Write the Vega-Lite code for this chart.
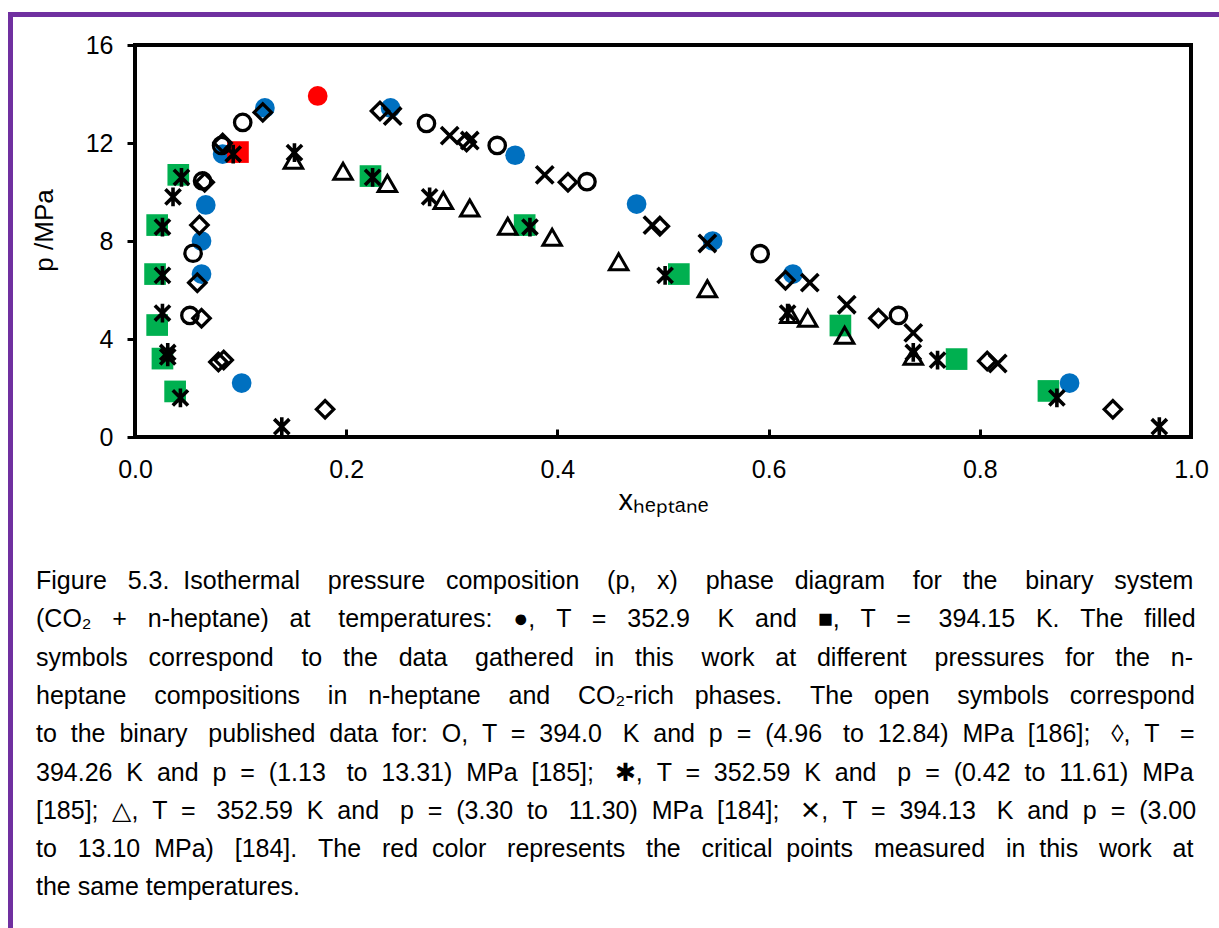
{
  "$schema": "https://vega.github.io/schema/vega-lite/v6.json",
  "width": 1056,
  "height": 392,
  "autosize": {"type": "none"},
  "padding": {"left": 135, "top": 45, "right": 28, "bottom": 491},
  "background": "white",
  "config": {
    "view": {"stroke": "#000000", "strokeWidth": 4},
    "font": "Liberation Sans",
    "legend": {"strokeWidth": 5},
    "axis": {
      "domain": false,
      "grid": false,
      "labelFlush": false,
      "labelFont": "Liberation Sans",
      "labelFontSize": 25,
      "labelColor": "#000000",
      "tickColor": "#000000",
      "tickWidth": 3,
      "titleFont": "Liberation Sans",
      "titleFontSize": 26,
      "titleFontWeight": "normal",
      "titleColor": "#000000"
    }
  },
  "title": {
    "text": [
      "Figure \u00a0\u00a05.3. \u00a0Isothermal \u00a0\u00a0\u00a0pressure \u00a0\u00a0composition \u00a0\u00a0\u00a0(p, \u00a0\u00a0x) \u00a0\u00a0\u00a0phase \u00a0\u00a0diagram \u00a0\u00a0\u00a0for \u00a0\u00a0the \u00a0\u00a0\u00a0binary \u00a0\u00a0system",
      "(CO₂ \u00a0\u00a0+ \u00a0\u00a0n-heptane) \u00a0\u00a0at \u00a0\u00a0\u00a0temperatures: \u00a0\u00a0●, \u00a0\u00a0T \u00a0\u00a0= \u00a0\u00a0352.9 \u00a0\u00a0\u00a0K \u00a0\u00a0and \u00a0\u00a0■, \u00a0\u00a0T \u00a0\u00a0= \u00a0\u00a0\u00a0394.15 \u00a0\u00a0K. \u00a0\u00a0The \u00a0\u00a0filled",
      "symbols \u00a0\u00a0correspond \u00a0\u00a0\u00a0to \u00a0\u00a0the \u00a0\u00a0data \u00a0\u00a0\u00a0gathered \u00a0\u00a0in \u00a0\u00a0this \u00a0\u00a0\u00a0work \u00a0\u00a0at \u00a0\u00a0different \u00a0\u00a0\u00a0pressures \u00a0\u00a0for \u00a0\u00a0the \u00a0\u00a0n-",
      "heptane \u00a0\u00a0\u00a0compositions \u00a0\u00a0\u00a0in \u00a0\u00a0n-heptane \u00a0\u00a0\u00a0and \u00a0\u00a0\u00a0CO₂-rich \u00a0\u00a0phases. \u00a0\u00a0\u00a0The \u00a0\u00a0open \u00a0\u00a0\u00a0symbols \u00a0\u00a0correspond",
      "to \u00a0the \u00a0binary \u00a0\u00a0published \u00a0data \u00a0for: \u00a0O, \u00a0T \u00a0= \u00a0394.0 \u00a0\u00a0K \u00a0and \u00a0p \u00a0= \u00a0(4.96 \u00a0\u00a0to \u00a012.84) \u00a0MPa \u00a0[186]; \u00a0\u00a0◊, \u00a0T \u00a0\u00a0=",
      "394.26 \u00a0K \u00a0and \u00a0p \u00a0= \u00a0(1.13 \u00a0\u00a0to \u00a013.31) \u00a0MPa \u00a0[185]; \u00a0\u00a0✱, \u00a0T \u00a0= \u00a0352.59 \u00a0K \u00a0and \u00a0\u00a0p \u00a0= \u00a0(0.42 \u00a0to \u00a011.61) \u00a0MPa",
      "[185]; \u00a0△, \u00a0T \u00a0= \u00a0\u00a0352.59 \u00a0K \u00a0and \u00a0\u00a0p \u00a0= \u00a0(3.30 \u00a0to \u00a0\u00a011.30) \u00a0MPa \u00a0[184]; \u00a0\u00a0✕, \u00a0T \u00a0= \u00a0394.13 \u00a0\u00a0K \u00a0and \u00a0p \u00a0= \u00a0(3.00",
      "to \u00a0\u00a013.10 \u00a0MPa) \u00a0\u00a0[184]. \u00a0\u00a0The \u00a0\u00a0red \u00a0color \u00a0\u00a0represents \u00a0\u00a0the \u00a0\u00a0critical \u00a0points \u00a0\u00a0measured \u00a0\u00a0in \u00a0this \u00a0\u00a0work \u00a0\u00a0at",
      "the same temperatures."
    ],
    "orient": "bottom",
    "anchor": "start",
    "frame": "bounds",
    "font": "Liberation Sans",
    "fontSize": 25,
    "fontWeight": "normal",
    "color": "#000000",
    "lineHeight": 38.3,
    "offset": -666,
    "dx": 28
  },
  "data": {
    "values": [
      {"series": "blue", "x_heptane": 0.123, "p_MPa": 13.43},
      {"series": "blue", "x_heptane": 0.242, "p_MPa": 13.43},
      {"series": "blue", "x_heptane": 0.083, "p_MPa": 11.55},
      {"series": "blue", "x_heptane": 0.067, "p_MPa": 9.47},
      {"series": "blue", "x_heptane": 0.063, "p_MPa": 8.0},
      {"series": "blue", "x_heptane": 0.063, "p_MPa": 6.65},
      {"series": "blue", "x_heptane": 0.101, "p_MPa": 2.2},
      {"series": "blue", "x_heptane": 0.36, "p_MPa": 11.5},
      {"series": "blue", "x_heptane": 0.475, "p_MPa": 9.51},
      {"series": "blue", "x_heptane": 0.547, "p_MPa": 8.0},
      {"series": "blue", "x_heptane": 0.623, "p_MPa": 6.65},
      {"series": "blue", "x_heptane": 0.885, "p_MPa": 2.2},
      {"series": "green", "x_heptane": 0.041, "p_MPa": 10.7},
      {"series": "green", "x_heptane": 0.021, "p_MPa": 8.65},
      {"series": "green", "x_heptane": 0.019, "p_MPa": 6.65},
      {"series": "green", "x_heptane": 0.021, "p_MPa": 4.57},
      {"series": "green", "x_heptane": 0.026, "p_MPa": 3.2},
      {"series": "green", "x_heptane": 0.038, "p_MPa": 1.86},
      {"series": "green", "x_heptane": 0.223, "p_MPa": 10.65},
      {"series": "green", "x_heptane": 0.369, "p_MPa": 8.65},
      {"series": "green", "x_heptane": 0.515, "p_MPa": 6.65},
      {"series": "green", "x_heptane": 0.668, "p_MPa": 4.55},
      {"series": "green", "x_heptane": 0.778, "p_MPa": 3.18},
      {"series": "green", "x_heptane": 0.865, "p_MPa": 1.88},
      {"series": "critical 352.9 K", "x_heptane": 0.173, "p_MPa": 13.92},
      {"series": "critical 394.15 K", "x_heptane": 0.0975, "p_MPa": 11.63},
      {"series": "circle", "x_heptane": 0.102, "p_MPa": 12.84},
      {"series": "circle", "x_heptane": 0.082, "p_MPa": 11.9},
      {"series": "circle", "x_heptane": 0.064, "p_MPa": 10.45},
      {"series": "circle", "x_heptane": 0.055, "p_MPa": 7.5},
      {"series": "circle", "x_heptane": 0.052, "p_MPa": 4.96},
      {"series": "circle", "x_heptane": 0.276, "p_MPa": 12.8},
      {"series": "circle", "x_heptane": 0.343, "p_MPa": 11.9},
      {"series": "circle", "x_heptane": 0.428, "p_MPa": 10.42},
      {"series": "circle", "x_heptane": 0.592, "p_MPa": 7.48},
      {"series": "circle", "x_heptane": 0.723, "p_MPa": 4.96},
      {"series": "diamond", "x_heptane": 0.18, "p_MPa": 1.13},
      {"series": "diamond", "x_heptane": 0.079, "p_MPa": 3.06},
      {"series": "diamond", "x_heptane": 0.084, "p_MPa": 3.14},
      {"series": "diamond", "x_heptane": 0.063, "p_MPa": 4.85},
      {"series": "diamond", "x_heptane": 0.059, "p_MPa": 6.3},
      {"series": "diamond", "x_heptane": 0.061, "p_MPa": 8.65},
      {"series": "diamond", "x_heptane": 0.066, "p_MPa": 10.4},
      {"series": "diamond", "x_heptane": 0.083, "p_MPa": 12.0},
      {"series": "diamond", "x_heptane": 0.121, "p_MPa": 13.25},
      {"series": "diamond", "x_heptane": 0.232, "p_MPa": 13.31},
      {"series": "diamond", "x_heptane": 0.314, "p_MPa": 12.04},
      {"series": "diamond", "x_heptane": 0.41, "p_MPa": 10.4},
      {"series": "diamond", "x_heptane": 0.497, "p_MPa": 8.6},
      {"series": "diamond", "x_heptane": 0.616, "p_MPa": 6.4},
      {"series": "diamond", "x_heptane": 0.704, "p_MPa": 4.85},
      {"series": "diamond", "x_heptane": 0.807, "p_MPa": 3.1},
      {"series": "diamond", "x_heptane": 0.926, "p_MPa": 1.13},
      {"series": "asterisk", "x_heptane": 0.139, "p_MPa": 0.42},
      {"series": "asterisk", "x_heptane": 0.043, "p_MPa": 1.6},
      {"series": "asterisk", "x_heptane": 0.031, "p_MPa": 3.27},
      {"series": "asterisk", "x_heptane": 0.031, "p_MPa": 3.45},
      {"series": "asterisk", "x_heptane": 0.026, "p_MPa": 5.06},
      {"series": "asterisk", "x_heptane": 0.026, "p_MPa": 6.6},
      {"series": "asterisk", "x_heptane": 0.026, "p_MPa": 8.57},
      {"series": "asterisk", "x_heptane": 0.036, "p_MPa": 9.8},
      {"series": "asterisk", "x_heptane": 0.044, "p_MPa": 10.6},
      {"series": "asterisk", "x_heptane": 0.093, "p_MPa": 11.55},
      {"series": "asterisk", "x_heptane": 0.151, "p_MPa": 11.61},
      {"series": "asterisk", "x_heptane": 0.225, "p_MPa": 10.6},
      {"series": "asterisk", "x_heptane": 0.279, "p_MPa": 9.8},
      {"series": "asterisk", "x_heptane": 0.374, "p_MPa": 8.57},
      {"series": "asterisk", "x_heptane": 0.502, "p_MPa": 6.6},
      {"series": "asterisk", "x_heptane": 0.618, "p_MPa": 5.06},
      {"series": "asterisk", "x_heptane": 0.737, "p_MPa": 3.45},
      {"series": "asterisk", "x_heptane": 0.76, "p_MPa": 3.14},
      {"series": "asterisk", "x_heptane": 0.873, "p_MPa": 1.6},
      {"series": "asterisk", "x_heptane": 0.97, "p_MPa": 0.42},
      {"series": "triangle", "x_heptane": 0.15, "p_MPa": 11.3},
      {"series": "triangle", "x_heptane": 0.197, "p_MPa": 10.85},
      {"series": "triangle", "x_heptane": 0.239, "p_MPa": 10.35},
      {"series": "triangle", "x_heptane": 0.292, "p_MPa": 9.65},
      {"series": "triangle", "x_heptane": 0.317, "p_MPa": 9.35},
      {"series": "triangle", "x_heptane": 0.353, "p_MPa": 8.6},
      {"series": "triangle", "x_heptane": 0.395, "p_MPa": 8.15},
      {"series": "triangle", "x_heptane": 0.458, "p_MPa": 7.15},
      {"series": "triangle", "x_heptane": 0.542, "p_MPa": 6.05},
      {"series": "triangle", "x_heptane": 0.62, "p_MPa": 5.0},
      {"series": "triangle", "x_heptane": 0.637, "p_MPa": 4.85},
      {"series": "triangle", "x_heptane": 0.672, "p_MPa": 4.15},
      {"series": "triangle", "x_heptane": 0.737, "p_MPa": 3.3},
      {"series": "cross", "x_heptane": 0.244, "p_MPa": 13.1},
      {"series": "cross", "x_heptane": 0.298, "p_MPa": 12.3},
      {"series": "cross", "x_heptane": 0.317, "p_MPa": 12.1},
      {"series": "cross", "x_heptane": 0.388, "p_MPa": 10.7},
      {"series": "cross", "x_heptane": 0.49, "p_MPa": 8.65},
      {"series": "cross", "x_heptane": 0.542, "p_MPa": 7.9},
      {"series": "cross", "x_heptane": 0.639, "p_MPa": 6.3},
      {"series": "cross", "x_heptane": 0.674, "p_MPa": 5.4},
      {"series": "cross", "x_heptane": 0.737, "p_MPa": 4.25},
      {"series": "cross", "x_heptane": 0.817, "p_MPa": 3.0}
    ]
  },
  "encoding": {
    "x": {
      "field": "x_heptane",
      "type": "quantitative",
      "scale": {"domain": [0, 1], "nice": false, "zero": false},
      "axis": {
        "title": "xₕₑₚₜₐₙₑ",
        "titleFontSize": 29,
        "values": [0, 0.2, 0.4, 0.6, 0.8, 1.0],
        "format": ".1f",
        "tickSize": -8,
        "labelPadding": 28,
        "titlePadding": 4
      }
    },
    "y": {
      "field": "p_MPa",
      "type": "quantitative",
      "scale": {"domain": [0, 16], "nice": false},
      "axis": {
        "title": "p /MPa",
        "values": [0, 4, 8, 12, 16],
        "tickSize": 8,
        "labelPadding": 14,
        "titlePadding": 28,
        "titleY": 185
      }
    }
  },
  "layer": [
    {
      "transform": [{"filter": "datum.series === 'blue'"}],
      "mark": {"type": "point", "shape": "circle", "filled": true, "opacity": 1, "size": 390},
      "encoding": {
        "color": {
          "datum": "T = 352.9 K",
          "scale": {"range": ["#0070C0"]},
          "legend": {
            "orient": "none",
            "legendX": -124.5,
            "legendY": -30.5,
            "title": null,
            "padding": 604,
            "strokeColor": "#7030A0",
            "symbolOpacity": 0,
            "symbolSize": 0,
            "labelOffset": 0,
            "labelExpr": "''"
          }
        }
      }
    },
    {
      "transform": [{"filter": "datum.series === 'green'"}],
      "mark": {"type": "point", "shape": "square", "filled": true, "color": "#00B050", "opacity": 1, "size": 470}
    },
    {
      "transform": [{"filter": "datum.series === 'critical 352.9 K'"}],
      "mark": {"type": "point", "shape": "circle", "filled": true, "color": "#FF0000", "opacity": 1, "size": 390}
    },
    {
      "transform": [{"filter": "datum.series === 'critical 394.15 K'"}],
      "mark": {"type": "point", "shape": "square", "filled": true, "color": "#FF0000", "opacity": 1, "size": 470}
    },
    {
      "transform": [{"filter": "datum.series === 'circle'"}],
      "mark": {"type": "point", "shape": "circle", "filled": false, "color": "#000000", "opacity": 1, "size": 270, "strokeWidth": 3.3}
    },
    {
      "transform": [{"filter": "datum.series === 'diamond'"}],
      "mark": {"type": "point", "shape": "diamond", "filled": false, "color": "#000000", "opacity": 1, "size": 300, "strokeWidth": 3.3}
    },
    {
      "transform": [{"filter": "datum.series === 'asterisk'"}],
      "mark": {"type": "point", "shape": "M-0.85,-0.85L0.85,0.85M-0.85,0.85L0.85,-0.85M0,-1.05L0,1.05", "filled": false, "color": "#000000", "opacity": 1, "size": 320, "strokeWidth": 3.6}
    },
    {
      "transform": [{"filter": "datum.series === 'triangle'"}],
      "mark": {"type": "point", "shape": "triangle-up", "filled": false, "color": "#000000", "opacity": 1, "size": 340, "strokeWidth": 3}
    },
    {
      "transform": [{"filter": "datum.series === 'cross'"}],
      "mark": {"type": "point", "shape": "M-1,-1L1,1M-1,1L1,-1", "filled": false, "color": "#000000", "opacity": 1, "size": 300, "strokeWidth": 3.6}
    }
  ]
}
